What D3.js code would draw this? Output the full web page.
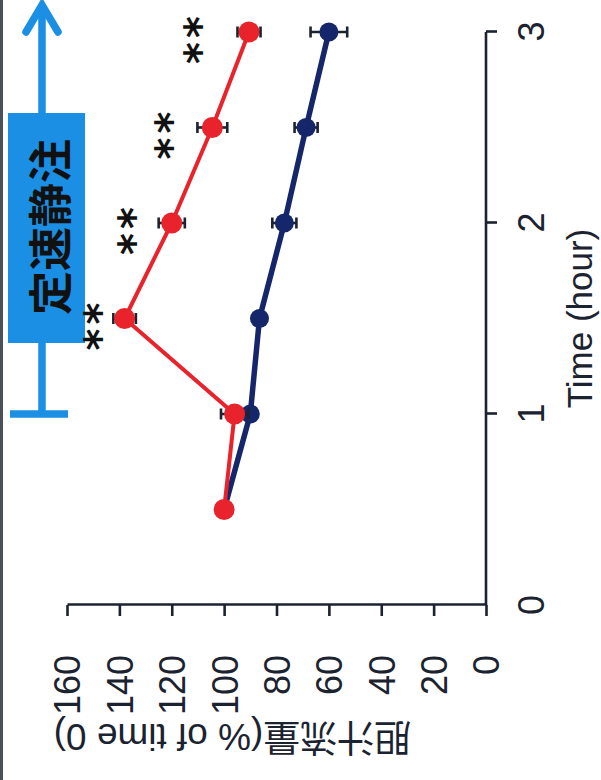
<!DOCTYPE html>
<html>
<head>
<meta charset="utf-8">
<script src="https://cdn.jsdelivr.net/npm/d3@7"></script>
<style>
  html, body { margin: 0; padding: 0; background: #ffffff; }
  svg { display: block; }
</style>
</head>
<body>
<div id="chart"></div>
<script>
// Bile flow during constant-rate infusion, % of time 0
const times = [0.5, 1, 1.5, 2, 2.5, 3];
const treated = [100, 96, 138, 120, 104.5, 90.5];      // red series
const treatedErr = [0, 5.2, 4.3, 5, 5.7, 4.4];
const control = [100, 90, 86.5, 77, 68.7, 60];         // navy series
const controlErr = [0, 1.5, 1.5, 4.6, 4.4, 7];
const sigTimes = [1.5, 2, 2.5, 3];
const sigMarks = ["**", "**", "**", "**"];
const sigLevel = [150, 137, 123, 112];
const xTicks = [0, 1, 2, 3];
const yTicks = [0, 20, 40, 60, 80, 100, 120, 140, 160];
const infusionStart = 1;
const infusionLabel = "定速静注";
const xTitle = "Time (hour)";
const yTitle = "胆汁流量(% of time 0)";

const W = 601, H = 780;
const RED = "#e8232b", NAVY = "#16266b", INK = "#1b2230", CYAN = "#1a8fe3";
const latin = "'Liberation Sans', Arial, Helvetica, sans-serif";
const cjk = "'Liberation Sans', 'Noto Sans CJK JP', sans-serif";

const svg = d3.select("#chart").append("svg")
  .attr("width", W).attr("height", H);

// thin dark edge on the left of the figure
svg.append("rect").attr("x", 0).attr("y", 0).attr("width", 3).attr("height", H)
  .attr("fill", "#4a4f58");

// The figure is laid out landscape (780 wide, 601 tall) and turned a quarter turn.
const g = svg.append("g").attr("transform", `translate(0,${H}) rotate(-90)`);

const x = d3.scaleLinear().domain([0, 3]).range([175, 748]);
const y = d3.scaleLinear().domain([0, 160]).range([486, 67]);

// axes
const xAxis = d3.axisBottom(x).tickValues(xTicks.filter(d => d > 0))
  .tickSize(11).tickSizeOuter(0).tickFormat(d3.format("d"));
const gx = g.append("g").attr("transform", `translate(0,${y(0)})`).call(xAxis);
gx.select(".domain").attr("d", `M${x(0)},0H${x(3)}`);

const yAxis = d3.axisLeft(y).tickValues(yTicks).tickSize(11).tickSizeOuter(0)
  .tickFormat(d3.format("d"));
const gy = g.append("g").attr("transform", `translate(${x(0)},0)`).call(yAxis);

[gx, gy].forEach(a => {
  a.select(".domain").attr("stroke", INK).attr("stroke-width", 2.6);
  a.selectAll(".tick line").attr("stroke", INK).attr("stroke-width", 2.6);
  a.selectAll(".tick text").attr("fill", INK)
    .style("font-family", latin).style("font-size", "36px");
});
gx.selectAll(".tick text").attr("y", 0).attr("dy", "1.6em");
gy.selectAll(".tick text").attr("x", -50).attr("dy", "0.36em");

// time-0 label sits under the corner without its own tick
gx.append("text").attr("x", x(0)).attr("y", 0).attr("dy", "1.6em")
  .attr("text-anchor", "middle").attr("fill", INK)
  .style("font-family", latin).style("font-size", "36px").text("0");

// axis titles
g.append("text").attr("x", (x(0) + x(3)) / 2).attr("y", 592)
  .attr("text-anchor", "middle").attr("fill", INK)
  .style("font-family", latin).style("font-size", "35px").text(xTitle);
g.append("text")
  .attr("transform", `translate(56,${(y(0) + y(160)) / 2 - 44}) rotate(-90)`)
  .attr("text-anchor", "middle").attr("fill", INK)
  .style("font-family", cjk).style("font-size", "37px").text(yTitle);

// infusion period: bar at start, arrow running past the last time point
const arrowY = 42;
g.append("line").attr("x1", x(infusionStart)).attr("x2", 774)
  .attr("y1", arrowY).attr("y2", arrowY)
  .attr("stroke", CYAN).attr("stroke-width", 7.5);
g.append("line").attr("x1", x(infusionStart)).attr("x2", x(infusionStart))
  .attr("y1", 10).attr("y2", 68)
  .attr("stroke", CYAN).attr("stroke-width", 7.5);
g.append("path").attr("d", `M748,26L775,${arrowY}L748,58`)
  .attr("fill", "none").attr("stroke", CYAN).attr("stroke-width", 7.5)
  .attr("stroke-linecap", "round").attr("stroke-linejoin", "miter");
g.append("rect").attr("x", 437).attr("y", 8).attr("width", 230).attr("height", 77)
  .attr("fill", CYAN);
g.append("text").attr("x", 553).attr("y", 51).attr("dy", "0.36em")
  .attr("text-anchor", "middle").attr("fill", "#111")
  .style("font-family", "'Noto Sans CJK JP', sans-serif").style("font-size", "44px")
  .style("font-weight", 600).text(infusionLabel);

// series
function drawSeries(vals, errs, color, lineW, r) {
  const pts = times.map((t, i) => ({ t, v: vals[i], e: errs[i] }));
  const line = d3.line().x(d => x(d.t)).y(d => y(d.v));
  g.append("path").datum(pts).attr("d", line)
    .attr("fill", "none").attr("stroke", color).attr("stroke-width", lineW)
    .attr("stroke-linejoin", "round");
  const eb = g.append("g").selectAll("g").data(pts.filter(d => d.e > 0)).join("g")
    .attr("stroke", INK).attr("stroke-width", 2.6);
  eb.append("line").attr("x1", d => x(d.t)).attr("x2", d => x(d.t))
    .attr("y1", d => y(d.v - d.e)).attr("y2", d => y(d.v + d.e));
  eb.append("line").attr("x1", d => x(d.t) - 5.5).attr("x2", d => x(d.t) + 5.5)
    .attr("y1", d => y(d.v - d.e)).attr("y2", d => y(d.v - d.e));
  eb.append("line").attr("x1", d => x(d.t) - 5.5).attr("x2", d => x(d.t) + 5.5)
    .attr("y1", d => y(d.v + d.e)).attr("y2", d => y(d.v + d.e));
  g.append("g").selectAll("circle").data(pts).join("circle")
    .attr("cx", d => x(d.t)).attr("cy", d => y(d.v)).attr("r", r)
    .attr("fill", color);
}
drawSeries(control, controlErr, NAVY, 5.5, 9.5);
drawSeries(treated, treatedErr, RED, 4, 10.5);

// significance marks
g.append("g").selectAll("text").data(sigTimes).join("text")
  .attr("x", d => x(d) - 6)
  .attr("y", (d, i) => y(sigLevel[i]) + 22)
  .attr("text-anchor", "middle").attr("fill", "#111")
  .style("font-family", "'DejaVu Sans', sans-serif").style("font-size", "42px")
  .style("font-weight", "bold")
  .style("letter-spacing", "4px")
  .text((d, i) => sigMarks[i]);
</script>
</body>
</html>
